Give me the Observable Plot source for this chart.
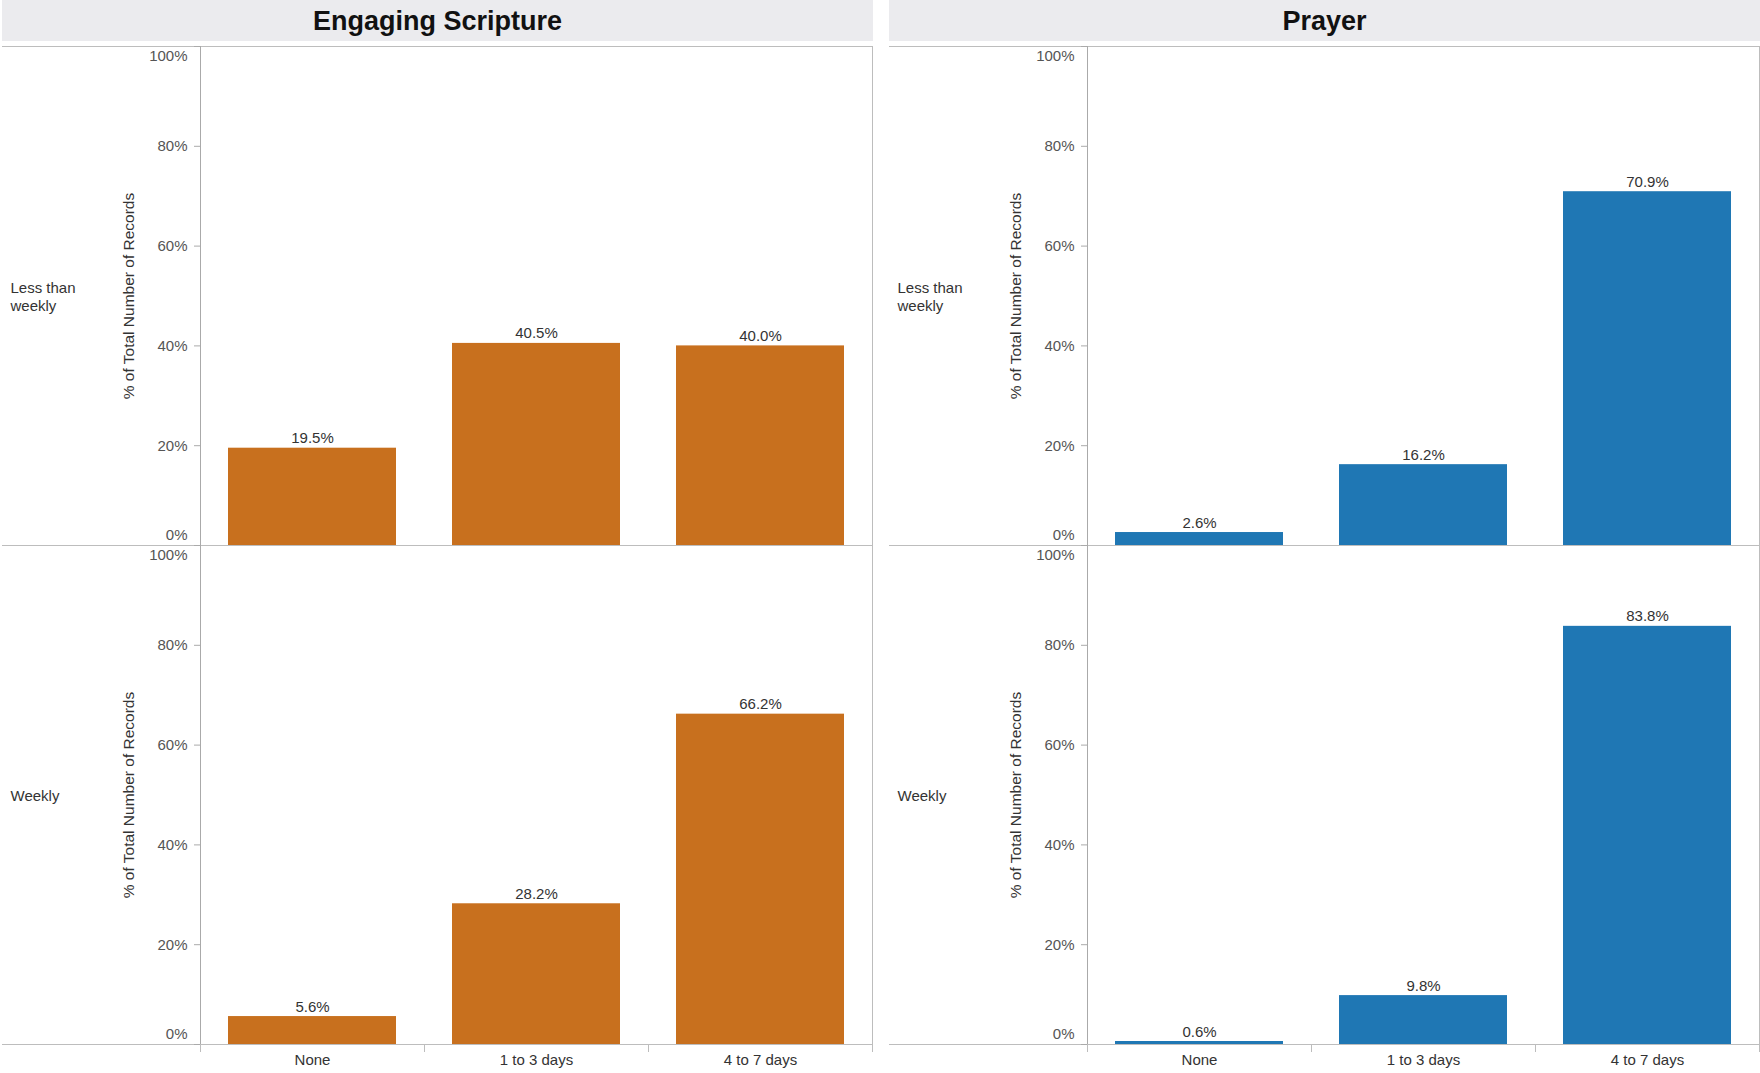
<!DOCTYPE html>
<html>
<head>
<meta charset="utf-8">
<script src="https://cdn.jsdelivr.net/npm/d3@7"></script>
<script src="https://cdn.jsdelivr.net/npm/@observablehq/plot@0.6"></script>
<style>
  body { margin: 0; background: #fff; }
  #wrap { position: relative; width: 1760px; height: 1073px; font-family: "Liberation Sans", Arial, sans-serif; }
  .hdr { position: absolute; top: 0; height: 41px; background: #ebebee; text-align: center;
         font-weight: bold; font-size: 27px; line-height: 43px; color: #111; }
  .col { position: absolute; top: 0; }
</style>
</head>
<body>
<div id="wrap"></div>
<script>
// ---- data ----
const panels = ["Engaging Scripture", "Prayer"];
const categories = ["None", "1 to 3 days", "4 to 7 days"];
const rows = ["Less than\nweekly", "Weekly"];
const scriptureLessThanWeekly = [19.5, 40.5, 40.0];
const scriptureWeekly = [5.6, 28.2, 66.2];
const prayerLessThanWeekly = [2.6, 16.2, 70.9];
const prayerWeekly = [0.6, 9.8, 83.8];
const yTicks = [0, 20, 40, 60, 80, 100];
const yTitle = "% of Total Number of Records";
const colors = ["#c8701e", "#1f77b4"];

const seriesByPanel = [
  [scriptureLessThanWeekly, scriptureWeekly],
  [prayerLessThanWeekly, prayerWeekly]
];

// ---- layout ----
const W = 1760, H = 1073;
const colW = 873, colX = [0, 887];
const mL = 200, mR = 1, mT = 45, mB = 29;
const step = (colW - mL - mR) / categories.length;
const grid = "#bdbdbd";
const font = "Liberation Sans, Arial, sans-serif";

const wrap = document.getElementById("wrap");

panels.forEach((title, p) => {
  const hdr = document.createElement("div");
  hdr.className = "hdr";
  hdr.style.left = (colX[p] + 2) + "px";
  hdr.style.width = (colW - 2) + "px";
  hdr.textContent = title;

  const data = [];
  rows.forEach((r, ri) => categories.forEach((c, ci) =>
    data.push({row: r, cat: c, value: seriesByPanel[p][ri][ci]})));

  const fmt = d => d + "%";
  const midTicks = yTicks.filter(t => t !== 0 && t !== 100);

  const chart = Plot.plot({
    width: colW,
    height: H,
    marginLeft: mL,
    marginRight: mR,
    marginTop: mT,
    marginBottom: mB,
    style: {fontFamily: font, fontSize: "15px", color: "#333", background: "transparent"},
    x: {domain: categories, paddingInner: 0.25, paddingOuter: 0.125},
    y: {domain: [0, 100]},
    fy: {domain: rows, padding: 0, axis: null},
    marks: [
      // frame lines
      Plot.ruleY([0, 100], {stroke: grid, insetLeft: -(mL - 2)}),
      Plot.frame({anchor: "left", stroke: "#aaa"}),
      Plot.frame({anchor: "right", stroke: grid}),
      // bars
      Plot.barY(data, {x: "cat", y: "value", fy: "row", fill: colors[p]}),
      Plot.text(data, {x: "cat", y: "value", fy: "row", text: d => d.value.toFixed(1) + "%",
        lineAnchor: "bottom", dy: -5, fill: "#333", fontSize: 15}),
      // y axis ticks + labels
      Plot.axisY({ticks: yTicks, tickSize: 6, tickFormat: () => "", stroke: "#aaa", label: null}),
      Plot.text(midTicks, {y: d => d, text: fmt, frameAnchor: "left", textAnchor: "end", dx: -13, fill: "#555", fontSize: 15}),
      Plot.text([100], {y: d => d, text: fmt, frameAnchor: "left", textAnchor: "end", dx: -13, dy: 10, fill: "#555", fontSize: 15}),
      Plot.text([0], {y: d => d, text: fmt, frameAnchor: "left", textAnchor: "end", dx: -13, dy: -10, fill: "#555", fontSize: 15}),
      // y axis title
      Plot.text(rows, {fy: d => d, text: () => yTitle, frameAnchor: "left", textAnchor: "middle", rotate: -90, dx: -71, fill: "#333", fontSize: 15.5}),
      // row labels
      Plot.text(rows, {fy: d => d, text: d => d, frameAnchor: "left", textAnchor: "start", dx: -(mL - 10), lineHeight: 1.2, fill: "#333", fontSize: 15}),
      // x axis
      Plot.axisX({anchor: "bottom", tickSize: 0, tickPadding: 10, label: null, fontSize: 15, fill: "#333"}),
      Plot.ruleX(categories, {x: d => d, fy: () => rows[rows.length - 1], y1: 0, y2: 0, insetBottom: -8, dx: -step / 2, stroke: grid}),
      Plot.ruleX(categories.slice(-1), {x: d => d, fy: () => rows[rows.length - 1], y1: 0, y2: 0, insetBottom: -8, dx: step / 2, stroke: grid})
    ]
  });

  const col = document.createElement("div");
  col.className = "col";
  col.style.left = colX[p] + "px";
  col.appendChild(chart);
  wrap.appendChild(col);
  wrap.appendChild(hdr);
});
</script>
</body>
</html>
